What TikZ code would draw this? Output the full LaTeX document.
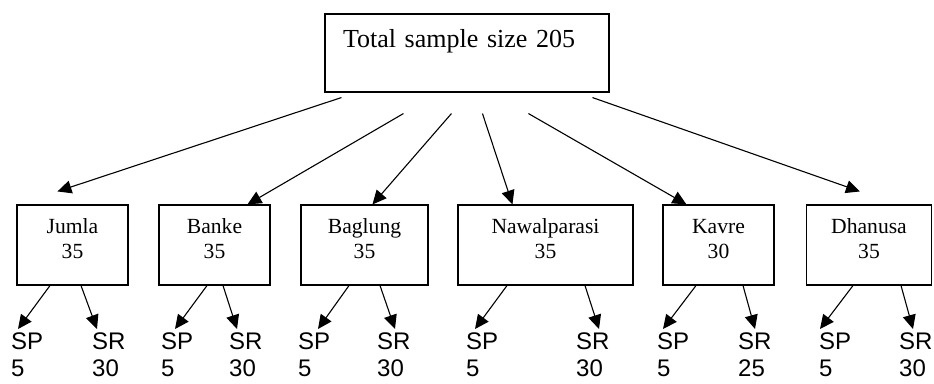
\documentclass[tikz,border=0pt]{standalone}
\usepackage{fontspec}
\setmainfont{Liberation Serif}
\newfontfamily\arialfont{Liberation Sans}
\usetikzlibrary{arrows.meta,calc}
\begin{document}
\begin{tikzpicture}[x=1pt,y=-1pt,
  box/.style={draw, line width=1.1pt, minimum height=80pt, inner sep=0pt, align=center,
    font=\fontsize{21.6}{25}\selectfont, text depth=12pt},
  topbox/.style={draw, line width=1.1pt, minimum width=284pt, minimum height=78pt,
    inner xsep=18pt, inner ysep=0pt, text width=248pt, align=left, text depth=30pt,
    font=\fontsize{26}{30}\selectfont},
  lbl/.style={anchor=north west, inner sep=0pt, align=left,
    font=\arialfont\fontsize{24}{27}\selectfont},
  arr/.style={line width=1.1pt, -{Triangle[length=14pt,width=13pt]}}]
\useasboundingbox (0,0) rectangle (934,383);

\node[topbox] (top) at (467,53) {Total sample size 205};

\node[box, minimum width=111pt] (jumla) at (72.5,245) {Jumla\\35};
\node[box, minimum width=111pt] (banke) at (214.5,245) {Banke\\35};
\node[box, minimum width=127pt] (baglung) at (364.5,245) {Baglung\\35};
\node[box, minimum width=175pt] (nawal) at (545.5,245) {Nawalparasi\\35};
\node[box, minimum width=111pt] (kavre) at (718.5,245) {Kavre\\30};
\node[box, minimum width=125pt] (dhanusa) at (869,245) {Dhanusa\\35};

\node[lbl] (jsp) at (11,333) {SP\\5};
\node[lbl] (jsr) at (92,333) {SR\\30};
\node[lbl] (bsp) at (161,333) {SP\\5};
\node[lbl] (bsr) at (229,333) {SR\\30};
\node[lbl] (gsp) at (298,333) {SP\\5};
\node[lbl] (gsr) at (377,333) {SR\\30};
\node[lbl] (nsp) at (466,333) {SP\\5};
\node[lbl] (nsr) at (576,333) {SR\\30};
\node[lbl] (ksp) at (657,333) {SP\\5};
\node[lbl] (ksr) at (738,333) {SR\\25};
\node[lbl] (dsp) at (819,333) {SP\\5};
\node[lbl] (dsr) at (899,333) {SR\\30};

% top arrows
\draw[arr] ($(top.south west)+(17,5)$) -- ($(jumla.north west)+(41,-13)$);
\draw[arr] ($(top.south west)+(79,21)$) -- ($(banke.north west)+(89,0)$);
\draw[arr] ($(top.south west)+(127,21)$) -- ($(baglung.north west)+(72,0)$);
\draw[arr] ($(top.south west)+(158,21)$) -- ($(nawal.north west)+(55,0)$);
\draw[arr] ($(top.south west)+(204,21)$) -- ($(kavre.north west)+(24,0)$);
\draw[arr] ($(top.south west)+(268,5)$) -- ($(dhanusa.north west)+(54,-13)$);

% bottom arrows
\draw[arr] ($(jumla.south)+(-22.5,0)$) -- ($(jsp.north west)+(7,-4)$);
\draw[arr] ($(jumla.south)+(8.5,0)$) -- ($(jsr.north west)+(5,-4)$);
\draw[arr] ($(banke.south)+(-7.5,0)$) -- ($(bsp.north west)+(14,-4)$);
\draw[arr] ($(banke.south)+(8.5,0)$) -- ($(bsr.north west)+(8,-4)$);
\draw[arr] ($(baglung.south)+(-15.5,0)$) -- ($(gsp.north west)+(20,-4)$);
\draw[arr] ($(baglung.south)+(15.5,0)$) -- ($(gsr.north west)+(18,-4)$);
\draw[arr] ($(nawal.south)+(-38.5,0)$) -- ($(nsp.north west)+(9,-4)$);
\draw[arr] ($(nawal.south)+(39.5,0)$) -- ($(nsr.north west)+(23,-4)$);
\draw[arr] ($(kavre.south)+(-22.5,0)$) -- ($(ksp.north west)+(6,-4)$);
\draw[arr] ($(kavre.south)+(24.5,0)$) -- ($(ksr.north west)+(17,-4)$);
\draw[arr] ($(dhanusa.south)+(-16,0)$) -- ($(dsp.north west)+(1,-4)$);
\draw[arr] ($(dhanusa.south)+(32,0)$) -- ($(dsr.north west)+(14,-4)$);
\end{tikzpicture}
\end{document}
